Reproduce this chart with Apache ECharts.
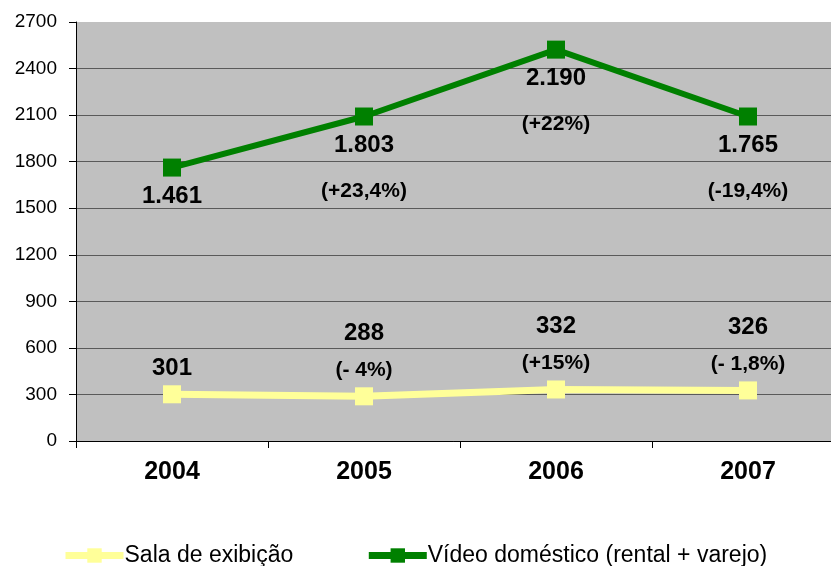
<!DOCTYPE html>
<html>
<head>
<meta charset="utf-8">
<script src="https://cdn.jsdelivr.net/npm/echarts@6/dist/echarts.min.js"></script>
<style>
  html, body { margin: 0; padding: 0; background: #fff; }
  #main { width: 831px; height: 566px; }
</style>
</head>
<body>
<div id="main"></div>
<script>
// dados do gráfico
var anos = ["2004", "2005", "2006", "2007"];
var sala = [301, 288, 332, 326];
var video = [1461, 1803, 2190, 1765];
var salaPct = ["", "(- 4%)", "(+15%)", "(- 1,8%)"];
var videoPct = ["", "(+23,4%)", "(+22%)", "(-19,4%)"];
var yTicks = [0, 300, 600, 900, 1200, 1500, 1800, 2100, 2400, 2700];

var fonte = "Liberation Sans, Arial, sans-serif";

// separador de milhar com ponto
function fmt(n) {
  return String(n).replace(/\B(?=(\d{3})+(?!\d))/g, ".");
}

var myChart = echarts.init(document.getElementById("main"));

myChart.setOption({
  animation: false,
  textStyle: { fontFamily: fonte, color: "#000" },
  grid: {
    left: 76,
    top: 22,
    right: -13, // a área do gráfico passa da borda direita, como no original
    bottom: 125,
    outerBoundsMode: "none",
    containLabel: false,
    show: true,
    backgroundColor: "#C0C0C0",
    borderWidth: 0
  },
  legend: {
    left: 57,
    top: 539,
    itemWidth: 58,
    itemHeight: 18,
    itemGap: 72,
    lineStyle: { width: 7 },
    textStyle: { fontSize: 23, color: "#000", fontFamily: fonte, padding: [0, 0, 0, -4] },
    data: ["Sala de exibição", "Vídeo doméstico (rental + varejo)"]
  },
  xAxis: {
    type: "category",
    data: anos,
    axisLine: { lineStyle: { color: "#000", width: 1 } },
    axisTick: { show: true, length: 7, lineStyle: { color: "#000" } },
    axisLabel: { fontSize: 25, fontWeight: "bold", color: "#000", margin: 19 }
  },
  yAxis: {
    type: "value",
    min: yTicks[0],
    max: yTicks[yTicks.length - 1],
    interval: 300,
    axisLine: { show: true, lineStyle: { color: "#000", width: 1 } },
    axisTick: { show: true, length: 7, lineStyle: { color: "#000" } },
    axisLabel: {
      fontSize: 19,
      color: "#000",
      margin: 19,
      formatter: function (v) { return String(v); }
    },
    splitLine: { show: true, showMaxLine: false, lineStyle: { color: "#5a5a5a", width: 1 } }
  },
  series: [
    {
      name: "Sala de exibição",
      type: "line",
      stack: "total",
      data: sala,
      symbol: "rect",
      symbolSize: 18,
      color: "#FFFF99",
      lineStyle: { width: 7, color: "#FFFF99" },
      itemStyle: { color: "#FFFF99" },
      label: {
        show: true,
        position: "top",
        distance: -1.5,
        formatter: function (p) {
          var s = "{v|" + fmt(sala[p.dataIndex]) + "}";
          if (salaPct[p.dataIndex]) s += "\n{p|" + salaPct[p.dataIndex] + "}";
          return s;
        },
        rich: {
          v: { fontSize: 24, fontWeight: "bold", color: "#000", lineHeight: 37, fontFamily: fonte },
          p: { fontSize: 21, fontWeight: "bold", color: "#000", lineHeight: 37, fontFamily: fonte }
        }
      }
    },
    {
      name: "Vídeo doméstico (rental + varejo)",
      type: "line",
      stack: "total",
      data: video,
      symbol: "rect",
      symbolSize: 18,
      color: "#008000",
      lineStyle: { width: 6, color: "#008000" },
      itemStyle: { color: "#008000" },
      label: {
        show: true,
        position: "bottom",
        distance: -3,
        formatter: function (p) {
          var s = "{v|" + fmt(video[p.dataIndex]) + "}";
          if (videoPct[p.dataIndex]) s += "\n{p|" + videoPct[p.dataIndex] + "}";
          return s;
        },
        rich: {
          v: { fontSize: 24, fontWeight: "bold", color: "#000", lineHeight: 46, fontFamily: fonte },
          p: { fontSize: 21, fontWeight: "bold", color: "#000", lineHeight: 46, fontFamily: fonte }
        }
      }
    }
  ]
});
</script>
</body>
</html>
